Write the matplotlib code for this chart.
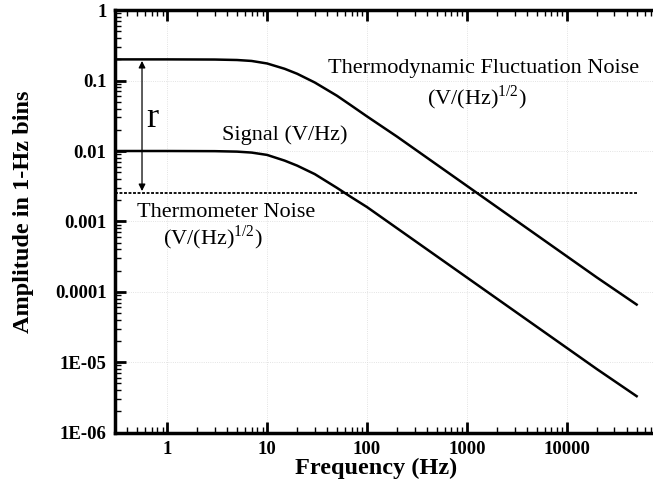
import matplotlib
matplotlib.use("Agg")
import matplotlib.pyplot as plt
from matplotlib.ticker import FixedLocator, LogLocator, NullFormatter


# =====================================================
# DATA
# =====================================================

freq = [0.3, 1, 3, 5, 7, 10, 15, 20, 30, 50, 70, 100, 200, 500,
        1000, 2000, 5000, 10000, 20000, 50000]

thermo_noise = [0.2, 0.2, 0.199, 0.196, 0.19, 0.175, 0.147, 0.125, 0.094,
                0.061, 0.044, 0.031, 0.016, 0.0064, 0.0032, 0.0016,
                0.00064, 0.00032, 0.00016, 0.000066]

signal = [0.01, 0.01, 0.00995, 0.0098, 0.0095, 0.0088, 0.0073, 0.0062,
          0.0047, 0.003, 0.0022, 0.0016, 0.0008, 0.00032, 0.00016,
          0.00008, 0.000032, 0.000016, 0.000008, 0.0000033]

thermometer_level = 0.0025
noise_span = [0.3, 50000]

x_ticks = [1, 10, 100, 1000, 10000]
x_labels = ["1", "10", "100", "1000", "10000"]

y_ticks = [1e-6, 1e-5, 1e-4, 1e-3, 1e-2, 1e-1, 1]
y_labels = ["1E-06", "1E-05", "0.0001", "0.001", "0.01", "0.1", "1"]


# =====================================================
# FIGURE
# =====================================================

plt.rcParams["font.family"] = ["Liberation Serif", "DejaVu Serif"]
plt.rcParams["mathtext.fontset"] = "custom"
plt.rcParams["mathtext.rm"] = "Liberation Serif"

fig = plt.figure(figsize=(6.53, 4.84), dpi=100)

# right edge of the axes runs past the figure, like the cropped original
ax = fig.add_axes([0.176, 0.106, 0.845, 0.873])

ax.plot(freq, thermo_noise, color="black", lw=1.8)
ax.plot(freq, signal, color="black", lw=1.8)

ax.plot(
    noise_span,
    [thermometer_level, thermometer_level],
    color="black",
    lw=1.3,
    linestyle=(0, (1.6, 0.9))
)

ax.set_xscale("log")
ax.set_yscale("log")
ax.set_xlim(0.3, 1e5)
ax.set_ylim(1e-6, 1)


# ticks
ax.xaxis.set_major_locator(FixedLocator(x_ticks))
ax.set_xticklabels(x_labels)
ax.xaxis.set_minor_locator(LogLocator(base=10, subs=range(2, 10), numticks=20))
ax.xaxis.set_minor_formatter(NullFormatter())

ax.yaxis.set_major_locator(FixedLocator(y_ticks))
ax.set_yticklabels(y_labels)
ax.yaxis.set_minor_locator(LogLocator(base=10, subs=range(2, 10), numticks=20))
ax.yaxis.set_minor_formatter(NullFormatter())

ax.tick_params(
    which="both",
    direction="in",
    top=True,
    right=False,
    labelsize=13.5
)
ax.tick_params(which="major", length=8, width=2, pad=6)
ax.tick_params(which="minor", length=4.5, width=1)

for lab in ax.get_xticklabels() + ax.get_yticklabels():
    lab.set_fontweight("bold")

for side in ["left", "bottom", "top"]:
    ax.spines[side].set_linewidth(2.5)

ax.grid(
    True,
    which="major",
    color="#dadada",
    lw=0.6,
    linestyle=":"
)


# =====================================================
# ANNOTATIONS
# =====================================================

txt = 16

ax.text(1457, 0.150, "Thermodynamic Fluctuation Noise",
        ha="center", va="center", fontsize=txt)
ax.text(1268, 0.0565, r"(V/(Hz)$^{\mathrm{1/2}}$)",
        ha="center", va="center", fontsize=txt)

ax.text(15.2, 0.0169, "Signal (V/Hz)",
        ha="center", va="center", fontsize=txt)

ax.text(3.92, 0.00136, "Thermometer Noise",
        ha="center", va="center", fontsize=txt)
ax.text(2.84, 0.00058, r"(V/(Hz)$^{\mathrm{1/2}}$)",
        ha="center", va="center", fontsize=txt)

ax.text(0.713, 0.0294, "r",
        ha="center", va="center", fontsize=26)

ax.annotate(
    "",
    xy=(0.56, 0.19),
    xytext=(0.56, 0.0027),
    arrowprops=dict(arrowstyle="<|-|>", color="black", lw=0.9,
                    mutation_scale=10, shrinkA=0, shrinkB=0)
)


# axis labels placed like the original
fig.text(376 / 653, 1 - 468 / 484, "Frequency (Hz)",
         ha="center", va="center", fontsize=17.5, fontweight="bold")
fig.text(24 / 653, 1 - 211.5 / 484, "Amplitude in 1-Hz bins",
         ha="center", va="center", fontsize=17.5, fontweight="bold",
         rotation=90)


fig.savefig("out.png", dpi=100)
plt.close(fig)
